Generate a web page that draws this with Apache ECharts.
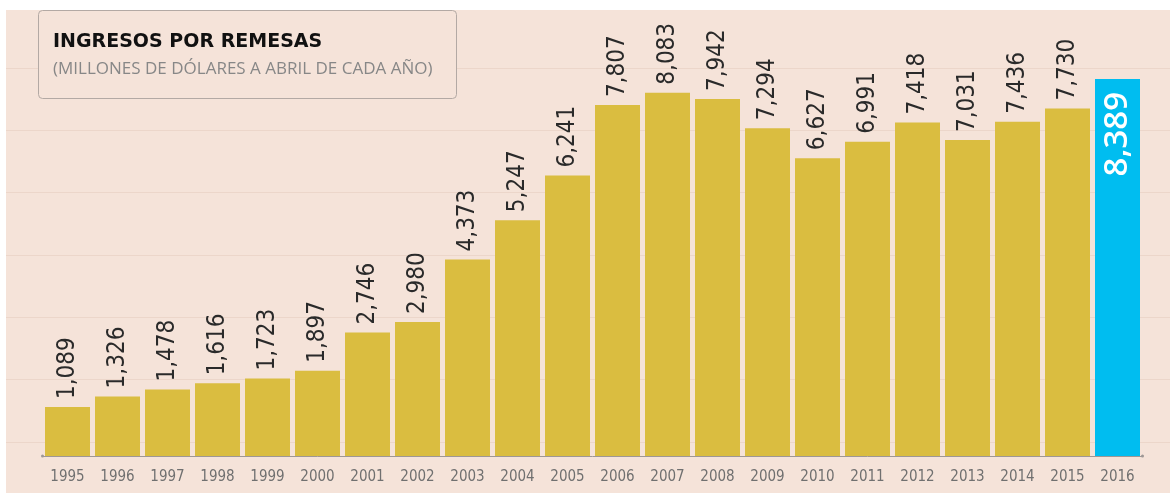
<!DOCTYPE html>
<html>
<head>
<meta charset="utf-8">
<script src="https://cdn.jsdelivr.net/npm/echarts@6/dist/echarts.min.js"></script>
<style>
  html, body { margin: 0; padding: 0; background: #fff; }
  #wrap { position: relative; width: 1170px; height: 495px; }
  #bg { position: absolute; left: 6px; top: 10px; width: 1164px; height: 483px; background: #f5e3d9; }
  #chart { position: absolute; left: 0; top: 0; width: 1170px; height: 495px; }
</style>
</head>
<body>
<div id="wrap">
  <div id="bg"></div>
  <div id="chart"></div>
</div>
<script>
  // datos
  const years = ['1995', '1996', '1997', '1998', '1999', '2000', '2001', '2002', '2003', '2004', '2005',
    '2006', '2007', '2008', '2009', '2010', '2011', '2012', '2013', '2014', '2015', '2016'];
  const remesas = [1089, 1326, 1478, 1616, 1723, 1897, 2746, 2980, 4373, 5247, 6241,
    7807, 8083, 7942, 7294, 6627, 6991, 7418, 7031, 7436, 7730, 8389];
  const titulo = 'INGRESOS POR REMESAS';
  const subtitulo = '(MILLONES DE DÓLARES A ABRIL DE CADA AÑO)';

  const fondo = '#f5e3d9';
  const amarillo = '#dabd40';
  const azul = '#00bdf0';
  // fuente estrecha: "condensed" va en el hueco de fontWeight del shorthand
  const narrowFamily = '"DejaVu Sans", sans-serif';
  const narrowWeight = 'condensed';

  const fmt = (v) => v.toLocaleString('en-US');
  const last = remesas.length - 1;

  const barData = remesas.map((v, i) => {
    if (i !== last) return v;
    return {
      value: v,
      itemStyle: { color: azul },
      label: {
        position: 'insideTop',
        rotate: 90,
        align: 'right',
        verticalAlign: 'middle',
        distance: 13,
        color: '#fff',
        fontFamily: '"Open Sans", sans-serif',
        fontWeight: 600,
        fontSize: 33
      }
    };
  });

  const chart = echarts.init(document.getElementById('chart'));

  chart.setOption({
    backgroundColor: 'transparent',
    animation: false,
    grid: [
      { left: 42.5, right: 27.5, top: 51.5, bottom: 39 },
      // rejilla de fondo
      { left: 6, right: 0, top: 68, bottom: 53 }
    ],
    xAxis: [
      {
        type: 'category',
        data: years,
        gridIndex: 0,
        axisLine: {
          lineStyle: { color: '#9e9795', width: 1 },
          symbol: ['circle', 'circle'],
          symbolSize: [3, 3]
        },
        axisTick: { show: false },
        axisLabel: {
          interval: 0,
          color: '#707070',
          fontFamily: narrowFamily,
          fontWeight: narrowWeight,
          fontSize: 15,
          margin: 14
        }
      },
      { type: 'value', gridIndex: 1, show: false }
    ],
    yAxis: [
      { type: 'value', gridIndex: 0, min: 0, max: 9000, show: false, splitLine: { show: false } },
      {
        type: 'value',
        gridIndex: 1,
        min: 0,
        max: 6,
        interval: 1,
        axisLine: { show: false },
        axisTick: { show: false },
        axisLabel: { show: false },
        splitLine: { show: true, lineStyle: { color: '#ecd6ca', width: 1 } }
      }
    ],
    series: [
      {
        type: 'bar',
        xAxisIndex: 0,
        yAxisIndex: 0,
        data: barData,
        barCategoryGap: '10%',
        itemStyle: { color: amarillo },
        label: {
          show: true,
          position: 'top',
          rotate: 90,
          align: 'left',
          verticalAlign: 'middle',
          distance: 8,
          color: '#2a2a2a',
          fontFamily: narrowFamily,
          fontWeight: narrowWeight,
          fontSize: 24,
          formatter: (p) => fmt(p.value)
        }
      }
    ],
    graphic: [
      {
        type: 'rect',
        z: 10,
        shape: { x: 38.5, y: 10.5, width: 418, height: 88, r: 4 },
        style: { fill: fondo, stroke: '#b3a9a4', lineWidth: 1 }
      },
      {
        type: 'text',
        z: 11,
        x: 53,
        y: 42,
        style: {
          text: titulo,
          fill: '#111',
          font: 'bold 19px "DejaVu Sans", sans-serif',
          verticalAlign: 'middle'
        }
      },
      {
        type: 'text',
        z: 11,
        x: 53,
        y: 69,
        style: {
          text: subtitulo,
          fill: '#878787',
          font: '17px "Open Sans", sans-serif',
          verticalAlign: 'middle'
        }
      }
    ]
  });
</script>
</body>
</html>
